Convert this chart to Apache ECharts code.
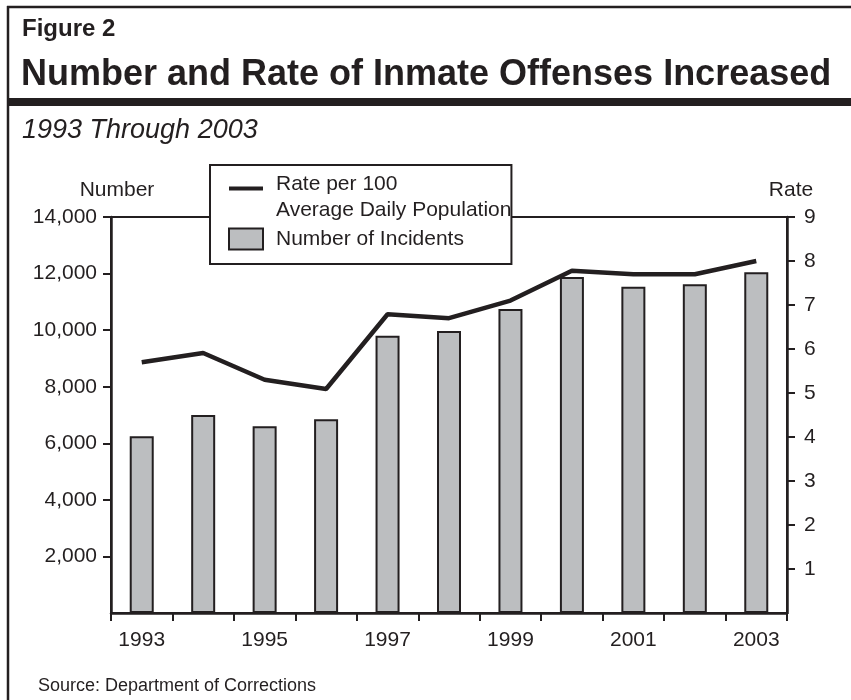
<!DOCTYPE html>
<html>
<head>
<meta charset="utf-8">
<script src="https://cdn.jsdelivr.net/npm/echarts@6/dist/echarts.min.js"></script>
<style>
  html, body { margin: 0; padding: 0; background: #fff; }
  #chart { width: 851px; height: 700px; }
</style>
</head>
<body>
<div id="chart"></div>
<script>
// Inmate offenses, 1993-2003
const years = ['1993', '1994', '1995', '1996', '1997', '1998', '1999', '2000', '2001', '2002', '2003'];
const incidents = [6250, 7000, 6600, 6850, 9800, 9970, 10750, 11880, 11530, 11620, 12050];
const ratePer100 = [5.7, 5.91, 5.3, 5.09, 6.79, 6.7, 7.1, 7.78, 7.7, 7.7, 8.0];

const figureLabel = 'Figure 2';
const titleText = 'Number and Rate of Inmate Offenses Increased';
const subtitleText = '1993 Through 2003';
const sourceText = 'Source: Department of Corrections';
const leftAxisName = 'Number';
const rightAxisName = 'Rate';
const rateSeriesName = 'Rate per 100 Average Daily Population';
const rateLegendLines = ['Rate per 100', 'Average Daily Population'];
const countSeriesName = 'Number of Incidents';

const ink = '#231f20';
const barFill = '#bcbec0';
const font = 'Liberation Sans, Arial, Helvetica, sans-serif';

const chart = echarts.init(document.getElementById('chart'), null, { renderer: 'canvas' });

chart.setOption({
  backgroundColor: '#fff',
  animation: false,
  textStyle: { fontFamily: font, color: ink },
  title: [
    { text: figureLabel, left: 22, top: 17, padding: 0,
      textStyle: { fontFamily: font, fontSize: 24, fontWeight: 'bold', color: ink } },
    { text: titleText, left: 21, top: 57, padding: 0,
      textStyle: { fontFamily: font, fontSize: 36, fontWeight: 'bold', color: ink } },
    { text: subtitleText, left: 22, top: 117, padding: 0,
      textStyle: { fontFamily: font, fontSize: 27, fontWeight: 'normal', fontStyle: 'italic', color: ink } },
    { text: sourceText, left: 38, top: 677, padding: 0,
      textStyle: { fontFamily: font, fontSize: 18, fontWeight: 'normal', color: ink } }
  ],
  graphic: [
    // outer frame: left edge and top edge
    { type: 'line', shape: { x1: 8, y1: 6, x2: 8, y2: 700 }, style: { stroke: ink, lineWidth: 2.5 } },
    { type: 'line', shape: { x1: 7, y1: 7, x2: 851, y2: 7 }, style: { stroke: ink, lineWidth: 2.5 } },
    // heavy rule under the headline
    { type: 'rect', shape: { x: 7, y: 98, width: 844, height: 8 }, style: { fill: ink } }
  ],
  legend: {
    left: 210,
    top: 165,
    orient: 'vertical',
    itemWidth: 34,
    itemHeight: 21,
    itemGap: 3,
    padding: [6, 0, 12, 18],
    backgroundColor: '#fff',
    borderColor: ink,
    borderWidth: 2,
    selectedMode: false,
    textStyle: { fontFamily: font, fontSize: 21, lineHeight: 26, color: ink, padding: [0, 0, 0, 8] },
    formatter: function (name) {
      return name === rateSeriesName ? rateLegendLines.join('\n') : name;
    },
    data: [
      { name: rateSeriesName, icon: 'path://M0,0H34V4H0ZM0,21H34V21.01H0Z',
        itemStyle: { color: ink, borderWidth: 0 } },
      { name: countSeriesName, icon: 'rect',
        itemStyle: { color: barFill, borderColor: ink, borderWidth: 2 } }
    ]
  },
  grid: {
    left: 111, right: 64, top: 217, bottom: 87,
    show: true, borderColor: ink, borderWidth: 2, backgroundColor: 'transparent'
  },
  xAxis: {
    type: 'category',
    data: years,
    boundaryGap: true,
    axisLine: { lineStyle: { color: ink, width: 2.5 } },
    axisTick: { show: true, interval: 0, length: 8, lineStyle: { color: ink, width: 2 } },
    axisLabel: { interval: 1, margin: 17, fontSize: 21, color: ink, fontFamily: font },
    splitLine: { show: false }
  },
  yAxis: [
    {
      type: 'value', position: 'left', min: 0, max: 14000, interval: 2000,
      name: leftAxisName, nameLocation: 'end', nameGap: 16,
      nameTextStyle: { fontSize: 21, color: ink, fontFamily: font, align: 'center', padding: [0, 0, 0, 12] },
      axisLine: { show: true, lineStyle: { color: ink, width: 2.5 } },
      axisTick: { show: true, length: 8, lineStyle: { color: ink, width: 2 } },
      axisLabel: {
        margin: 14, fontSize: 21, color: ink, fontFamily: font, showMinLabel: false,
        formatter: function (v) { return v === 0 ? '' : v.toLocaleString('en-US'); }
      },
      splitLine: { show: false }
    },
    {
      type: 'value', position: 'right', min: 0, max: 9, interval: 1,
      name: rightAxisName, nameLocation: 'end', nameGap: 16,
      nameTextStyle: { fontSize: 21, color: ink, fontFamily: font, align: 'center', padding: [0, 0, 0, 8] },
      axisLine: { show: true, lineStyle: { color: ink, width: 2.5 } },
      axisTick: { show: true, length: 8, lineStyle: { color: ink, width: 2 } },
      axisLabel: {
        margin: 17, fontSize: 21, color: ink, fontFamily: font, showMinLabel: false,
        formatter: function (v) { return v === 0 ? '' : String(v); }
      },
      splitLine: { show: false }
    }
  ],
  series: [
    {
      name: countSeriesName,
      type: 'bar',
      yAxisIndex: 0,
      data: incidents,
      barWidth: 24,
      itemStyle: { color: barFill, borderColor: ink, borderWidth: 2 },
      z: 2
    },
    {
      name: rateSeriesName,
      type: 'line',
      yAxisIndex: 1,
      data: ratePer100,
      symbol: 'none',
      lineStyle: { color: ink, width: 4.5 },
      itemStyle: { color: ink },
      z: 3
    }
  ]
});
</script>
</body>
</html>
